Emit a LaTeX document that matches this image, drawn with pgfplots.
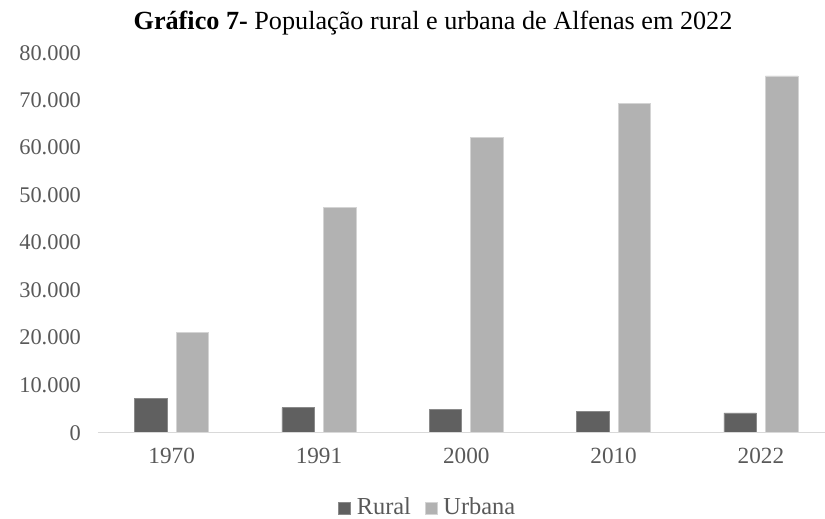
\documentclass[border=0pt]{standalone}
\usepackage{pgfplots}
\pgfplotsset{compat=1.18}
\usepackage{fontspec}
\setmainfont{Liberation Serif}
\definecolor{txt}{HTML}{595959}
\definecolor{rural}{HTML}{606060}
\definecolor{ruraledge}{HTML}{8A8A8A}
\definecolor{urbana}{HTML}{B2B2B2}
\definecolor{urbanaedge}{HTML}{D4D4D4}
\definecolor{axline}{HTML}{D9D9D9}
\begin{document}
\begin{tikzpicture}
\path[use as bounding box] (0,0) rectangle (412.5pt,259.5pt);
\node[font=\fontsize{13.1}{15}\selectfont, text=black] at (216.5pt,248pt) {\textbf{Gráfico 7-} População rural e urbana de Alfenas em 2022};
\begin{axis}[
  at={(49pt,43.15pt)}, anchor=south west,
  scale only axis,
  width=363.5pt, height=190pt,
  xmin=-0.5, xmax=4.435,
  ymin=0, ymax=80000,
  ybar=4.5pt, bar width=16.25pt,
  axis line style={draw=none},
  axis x line*=bottom, axis y line*=left,
  xtick={0,1,2,3,4},
  xticklabels={1970,1991,2000,2010,2022},
  ytick={0,10000,20000,30000,40000,50000,60000,70000,80000},
  major tick length=0pt,
  tick style={draw=none},
  scaled y ticks=false,
  /pgf/number format/.cd, 1000 sep={.}, assume math mode=true,
  /pgfplots/.cd,
  ticklabel style={font=\fontsize{11.2}{12}\selectfont, text=txt},
  xticklabel style={font=\fontsize{11.6}{12}\selectfont, yshift=-4pt},
  yticklabel style={xshift=-5pt},
  legend style={at={(axis description cs:0.455,-0.198)}, anchor=center, draw=none, fill=none,
    font=\fontsize{12.2}{13}\selectfont, text=txt, legend columns=2,
    /tikz/every even column/.append style={column sep=5pt},
    /tikz/every odd column/.append style={column sep=0.8pt}},
  legend image code/.code={\fill[#1] (0pt,-3pt) rectangle (6pt,3pt);},
  clip=false,
]
\addplot[fill=rural, draw=ruraledge, line width=0.4pt] coordinates {(0,7160) (1,5260) (2,4930) (3,4500) (4,4150)};
\addplot[fill=urbana, draw=urbanaedge, line width=0.4pt] coordinates {(0,21140) (1,47450) (2,62100) (3,69350) (4,75100)};
\legend{Rural,Urbana}
\draw[axline, line width=0.6pt] (axis cs:-0.5,0) -- (axis cs:4.435,0);
\end{axis}
\end{tikzpicture}
\end{document}
